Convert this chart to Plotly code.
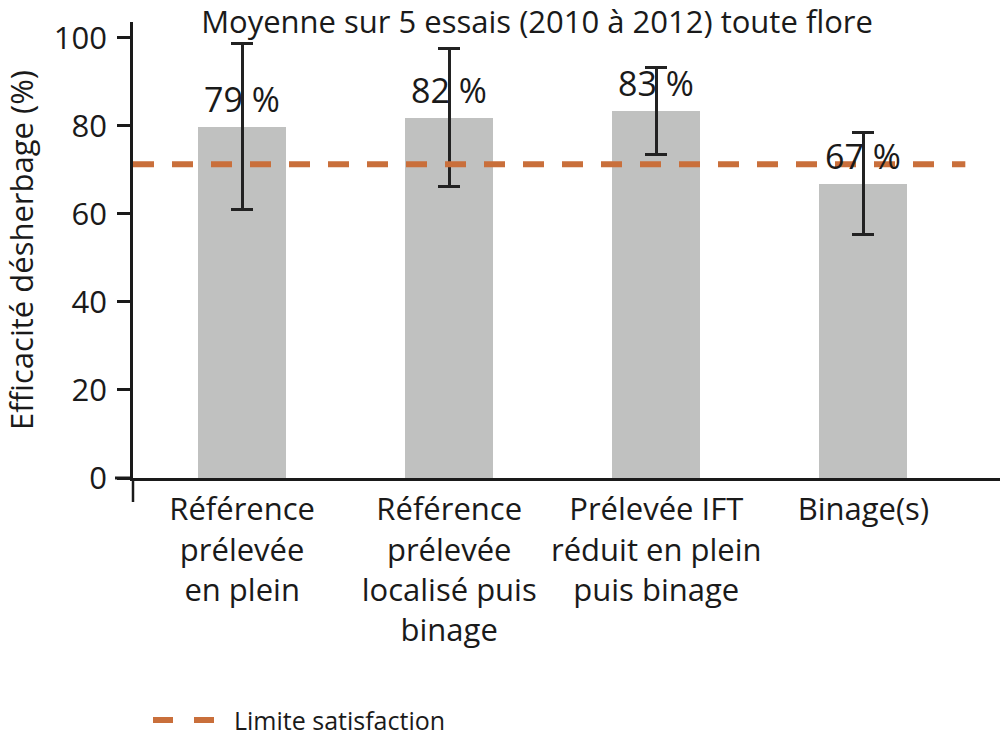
import plotly.graph_objects as go

categories = [
    "Référence<br>prélevée<br>en plein",
    "Référence<br>prélevée<br>localisé puis<br>binage",
    "Prélevée IFT<br>réduit en plein<br>puis binage",
    "Binage(s)",
]
efficacite = [79.8, 81.9, 83.4, 66.9]
ecart = [18.9, 15.6, 9.8, 11.6]
etiquettes = ["79 %", "82 %", "83 %", "67 %"]
limite_satisfaction = 71.3
y_ticks = [0, 20, 40, 60, 80, 100]

FONT = "Open Sans"
TXT = "#1a1a1a"
ORANGE = "#c96f3b"

fig = go.Figure()
fig.add_trace(go.Bar(
    x=list(range(len(categories))),
    y=efficacite,
    width=0.425,
    marker=dict(color="#c0c1c0", line=dict(width=0)),
    error_y=dict(type="data", array=ecart, visible=True, color="#222222",
                 thickness=3, width=11),
    showlegend=False,
    hoverinfo="skip",
))

for i, (v, e, lab) in enumerate(zip(efficacite, ecart, etiquettes)):
    fig.add_annotation(x=i, y=v, text=lab, showarrow=False, xanchor="center",
                       yanchor="middle", yshift=28,
                       font=dict(family=FONT, size=34, color=TXT))

# threshold line
fig.add_shape(type="line", xref="paper", yref="y", x0=0, x1=0.96,
              y0=limite_satisfaction, y1=limite_satisfaction,
              line=dict(color=ORANGE, width=6, dash="21px,18px"), layer="above")

# axis extensions
fig.add_shape(type="line", xref="paper", yref="paper", x0=-18/867, x1=0, y0=0, y1=0,
              line=dict(color=TXT, width=3))
fig.add_shape(type="line", xref="paper", yref="paper", x0=0, x1=0, y0=0, y1=-24/456,
              line=dict(color=TXT, width=2.5))

# manual legend
fig.add_shape(type="line", xref="paper", yref="paper", x0=20/867, x1=82/867,
              y0=-242/456, y1=-242/456,
              line=dict(color=ORANGE, width=6, dash="20px,21px"))
fig.add_annotation(xref="paper", yref="paper", x=99/867, y=-242/456, xanchor="left",
                   yanchor="middle", text="Limite satisfaction", showarrow=False,
                   font=dict(family=FONT, size=25, color=TXT))

fig.update_layout(
    width=1000, height=739,
    margin=dict(l=133, r=0, t=22, b=261, pad=0),
    paper_bgcolor="white", plot_bgcolor="white",
    font=dict(family=FONT, color=TXT),
    title=dict(text="Moyenne sur 5 essais (2010 à 2012) toute flore",
               x=0.537, xanchor="center", xref="container",
               y=1 - 22/739, yanchor="middle", yref="container",
               font=dict(family=FONT, size=31, color=TXT)),
    bargap=0,
)
fig.update_xaxes(
    range=[-0.527, 3.66],
    tickmode="array", tickvals=list(range(len(categories))), ticktext=categories,
    showline=True, linecolor=TXT, linewidth=3, ticks="",
    showgrid=False, zeroline=False,
    tickfont=dict(family=FONT, size=31, color=TXT),
    ticklabelstandoff=2,
)
fig.update_yaxes(
    range=[0, 103.6],
    tickmode="array", tickvals=y_ticks,
    showline=True, linecolor=TXT, linewidth=2.5,
    ticks="outside", ticklen=13, tickwidth=2.5, tickcolor=TXT,
    showgrid=False, zeroline=False,
    tickfont=dict(family=FONT, size=31, color=TXT),
    ticklabelstandoff=4,
    title=dict(text="Efficacité désherbage (%)", standoff=12,
               font=dict(family=FONT, size=31, color=TXT)),
)

fig.write_html("out.html", config={"displayModeBar": False},
               post_script="document.body.style.margin='0';document.body.style.overflow='hidden';")
